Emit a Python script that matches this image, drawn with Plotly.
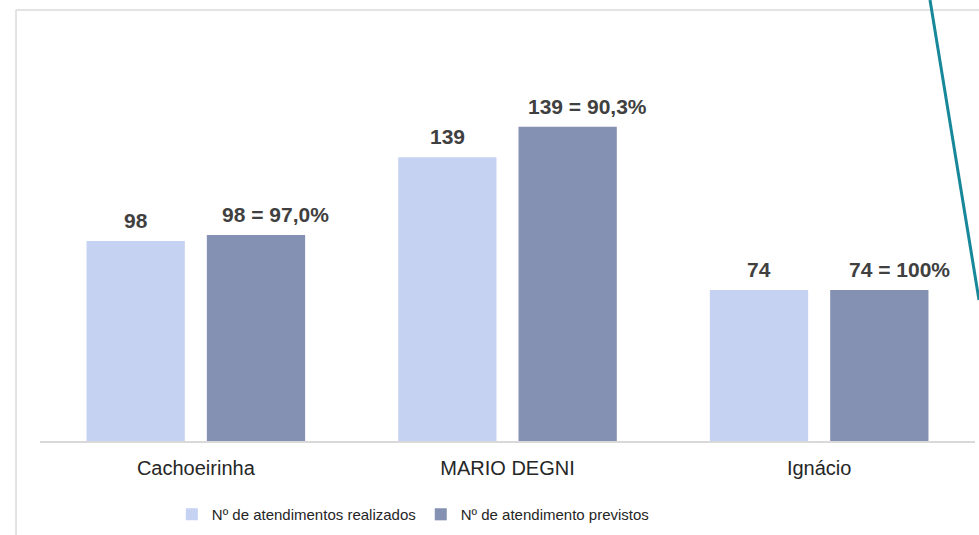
import plotly.graph_objects as go

# data
unidades = ["Cachoeirinha", "MARIO DEGNI", "Ignácio"]
realizados = [98, 139, 74]
previstos = [101, 154, 74]
rotulos_previstos = ["98 = 97,0%", "139 = 90,3%", "74 = 100%"]

cor_realizado = "#C6D2F2"
cor_previsto = "#8591B2"
cor_rotulo = "#404040"

fig = go.Figure()

fig.add_trace(go.Bar(
    x=unidades, y=realizados,
    name="Nº de atendimentos realizados",
    marker=dict(color=cor_realizado, line=dict(width=0)),
))
fig.add_trace(go.Bar(
    x=unidades, y=previstos,
    name="Nº de atendimento previstos",
    marker=dict(color=cor_previsto, line=dict(width=0)),
))

# value labels above bars
for u, r, p, txt in zip(unidades, realizados, previstos, rotulos_previstos):
    fig.add_annotation(
        x=u, y=r, text=f"<b>{r}</b>", showarrow=False,
        xshift=-60, yshift=7, yanchor="bottom",
        font=dict(size=21, color=cor_rotulo, family="Liberation Sans, Arial"),
    )
    fig.add_annotation(
        x=u, y=p, text=f"<b>{txt}</b>", showarrow=False,
        xshift=80, yshift=7, yanchor="bottom",
        font=dict(size=21, color=cor_rotulo, family="Liberation Sans, Arial"),
    )

# slide frame
fig.add_shape(type="line", xref="paper", yref="paper",
              x0=-0.0257, x1=-0.0257, y0=-0.3, y1=1.0238,
              line=dict(color="#E3E3E3", width=2))
fig.add_shape(type="line", xref="paper", yref="paper",
              x0=-0.0257, x1=1.01, y0=1.0238, y1=1.0238,
              line=dict(color="#E3E3E3", width=2))

fig.update_layout(
    width=979, height=535,
    barmode="group",
    bargap=0.228,
    bargroupgap=0.183,
    paper_bgcolor="white",
    plot_bgcolor="white",
    margin=dict(l=40, r=4, t=20, b=94),
    font=dict(family="Liberation Sans, Arial", color="#262626"),
    showlegend=True,
    legend=dict(
        orientation="h",
        x=0.141, xanchor="left",
        y=-0.214, yanchor="bottom",
        font=dict(size=15, color="#262626"),
        itemwidth=30,
    ),
)
fig.update_xaxes(
    showline=True, linecolor="#D9D9D9", linewidth=2,
    ticks="", tickfont=dict(size=20, color="#262626"),
    ticklabelstandoff=8,
)
fig.update_yaxes(
    visible=False, range=[0, 206.3], showgrid=False, zeroline=False,
)

# teal decoration line from the slide
fig.add_shape(type="line", xref="paper", yref="paper",
              x0=(930 - 40) / 935, y0=(441 - 0) / 421,
              x1=(979 - 40) / 935, y1=(441 - 300) / 421,
              line=dict(color="#17879A", width=3))

fig.write_html("out.html", config={"displayModeBar": False},
               post_script="document.body.style.margin='0';")
